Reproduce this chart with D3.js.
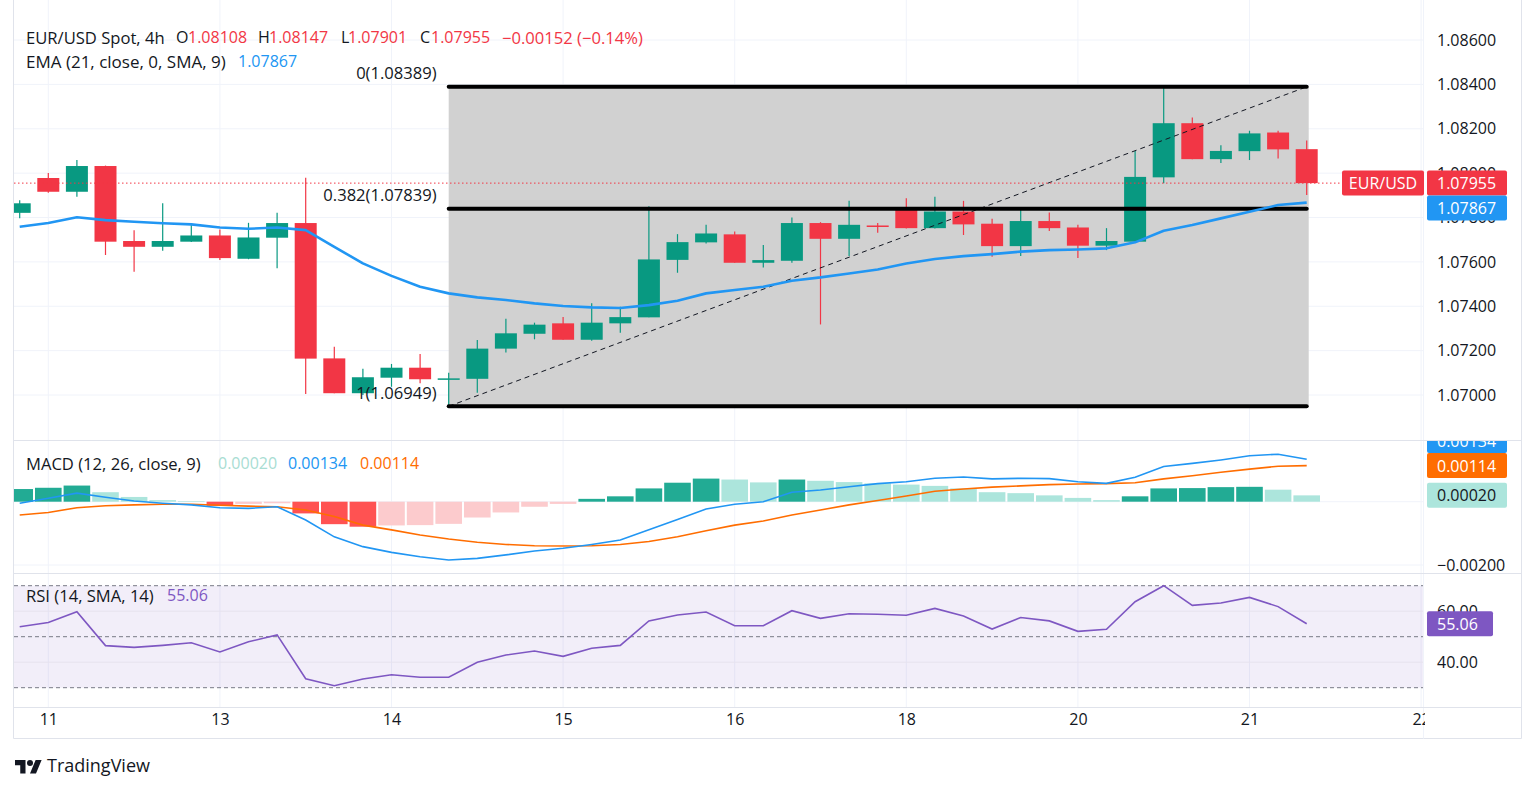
<!DOCTYPE html>
<html>
<head>
<meta charset="utf-8">
<script src="https://cdn.jsdelivr.net/npm/d3@7"></script>
<style>
  html, body { margin: 0; padding: 0; background: #fff; }
  svg { display: block; font-family: "Open Sans", sans-serif; }
</style>
</head>
<body>
<svg id="chart" width="1536" height="790"></svg>
<script>
// ---- data (4h bars, index 0..45) ----
const dayLabels = ['11', '13', '14', '15', '16', '18', '20', '21', '22'];
const dayBars   = [1, 7, 13, 19, 25, 31, 37, 43, 49];

const opens  = [1.07821, 1.07978, 1.07916, 1.08032, 1.07694, 1.07668, 1.07691, 1.07719, 1.07614, 1.07709,
                1.07775, 1.07165, 1.07008, 1.07078, 1.07123, 1.07071, 1.07073, 1.07209, 1.07276, 1.07323,
                1.07249, 1.07323, 1.07350, 1.07609, 1.07688, 1.07724, 1.07596, 1.07605, 1.07775, 1.07704,
                1.07764, 1.07841, 1.07752, 1.07827, 1.07772, 1.07671, 1.07784, 1.07755, 1.07673, 1.07691,
                1.07981, 1.08225, 1.08063, 1.08099, 1.08183, 1.08108];
const highs  = [1.07878, 1.08001, 1.08059, 1.08034, 1.07743, 1.07864, 1.07766, 1.07746, 1.07776, 1.07821,
                1.07979, 1.07218, 1.07118, 1.07140, 1.07185, 1.07100, 1.07248, 1.07344, 1.07326, 1.07351,
                1.07413, 1.07398, 1.07851, 1.07725, 1.07767, 1.07737, 1.07676, 1.07800, 1.07779, 1.07875,
                1.07775, 1.07887, 1.07893, 1.07875, 1.07794, 1.07837, 1.07823, 1.07767, 1.07752, 1.08100,
                1.08389, 1.08251, 1.08126, 1.08191, 1.08191, 1.08147];
const lows   = [1.07797, 1.07911, 1.07893, 1.07631, 1.07555, 1.07650, 1.07690, 1.07608, 1.07612, 1.07571,
                1.07005, 1.07008, 1.07000, 1.07037, 1.07053, 1.06949, 1.07010, 1.07191, 1.07251, 1.07249,
                1.07245, 1.07281, 1.07350, 1.07551, 1.07683, 1.07596, 1.07575, 1.07596, 1.07318, 1.07626,
                1.07731, 1.07750, 1.07750, 1.07721, 1.07623, 1.07627, 1.07739, 1.07618, 1.07653, 1.07690,
                1.07954, 1.08063, 1.08046, 1.08059, 1.08066, 1.07901];
const closes = [1.07864, 1.07916, 1.08032, 1.07691, 1.07668, 1.07694, 1.07719, 1.07617, 1.07710, 1.07775,
                1.07164, 1.07008, 1.07080, 1.07123, 1.07071, 1.07075, 1.07209, 1.07278, 1.07317, 1.07249,
                1.07326, 1.07351, 1.07611, 1.07689, 1.07728, 1.07596, 1.07608, 1.07775, 1.07704, 1.07767,
                1.07759, 1.07752, 1.07827, 1.07769, 1.07671, 1.07784, 1.07752, 1.07673, 1.07694, 1.07983,
                1.08225, 1.08063, 1.08100, 1.08179, 1.08107, 1.07955];

const ema21 = [1.07758, 1.07775, 1.07801, 1.07788, 1.07781, 1.07774, 1.07769, 1.07755, 1.07749, 1.07755,
               1.07743, 1.07668, 1.07593, 1.07537, 1.07488, 1.07458, 1.07440, 1.07428, 1.07413, 1.07401,
               1.07395, 1.07392, 1.07405, 1.07425, 1.07458, 1.07473, 1.07488, 1.07515, 1.07530, 1.07548,
               1.07566, 1.07593, 1.07613, 1.07626, 1.07635, 1.07646, 1.07653, 1.07656, 1.07661, 1.07688,
               1.07740, 1.07766, 1.07796, 1.07826, 1.07856, 1.07867];

const macdHist = [0.00040, 0.00044, 0.00051, 0.00030, 0.00015, 0.00005, 0.00002, -0.00013, -0.00007, -0.00005,
                  -0.00037, -0.00071, -0.00079, -0.00075, -0.00074, -0.00070, -0.00050, -0.00034, -0.00016, -0.00007,
                  0.00009, 0.00017, 0.00042, 0.00060, 0.00073, 0.00070, 0.00061, 0.00070, 0.00066, 0.00062,
                  0.00058, 0.00054, 0.00050, 0.00042, 0.00030, 0.00027, 0.00020, 0.00012, 0.00005, 0.00017,
                  0.00042, 0.00043, 0.00046, 0.00047, 0.00038, 0.00020];
const macdLine = [-0.00005, 0.00011, 0.00027, 0.00014, 0.00002, -0.00005, -0.00010, -0.00019, -0.00021, -0.00016,
                  -0.00058, -0.00111, -0.00142, -0.00160, -0.00174, -0.00184, -0.00179, -0.00168, -0.00156, -0.00147,
                  -0.00135, -0.00121, -0.00089, -0.00056, -0.00023, -0.00008, 0.00000, 0.00030, 0.00037, 0.00047,
                  0.00057, 0.00063, 0.00074, 0.00078, 0.00072, 0.00074, 0.00073, 0.00063, 0.00058, 0.00077,
                  0.00111, 0.00121, 0.00132, 0.00145, 0.00150, 0.00134];
const macdSignal = [-0.00042, -0.00034, -0.00019, -0.00013, -0.00010, -0.00008, -0.00008, -0.00011, -0.00014, -0.00016,
                    -0.00026, -0.00047, -0.00074, -0.00089, -0.00105, -0.00118, -0.00128, -0.00135, -0.00139, -0.00140,
                    -0.00139, -0.00135, -0.00126, -0.00111, -0.00092, -0.00074, -0.00061, -0.00042, -0.00026, -0.00010,
                    0.00004, 0.00018, 0.00033, 0.00040, 0.00046, 0.00050, 0.00054, 0.00056, 0.00057, 0.00060,
                    0.00072, 0.00082, 0.00093, 0.00103, 0.00112, 0.00114];

const rsi14 = [53.9, 55.6, 59.8, 46.5, 45.8, 46.6, 47.6, 44.0, 48.0, 50.7,
               33.5, 30.8, 33.4, 35.1, 34.1, 34.1, 40.0, 42.8, 44.4, 42.3,
               45.5, 46.6, 56.2, 58.5, 59.7, 54.3, 54.3, 60.2, 57.2, 59.0,
               58.8, 58.4, 61.1, 58.1, 53.0, 57.5, 56.2, 52.1, 52.9, 63.7,
               70.0, 62.3, 63.2, 65.4, 61.8, 55.06];

const priceTicks = [1.07, 1.072, 1.074, 1.076, 1.078, 1.08, 1.082, 1.084, 1.086];
const macdTicks  = [-0.002];
const rsiTicks   = [40, 60];
const rsiBands   = [70, 50, 30];

const fibLevels = ['0', '0.382', '1'];
const fibPrices = [1.08389, 1.07839, 1.06949];
const fibBars   = [15, 45];

// ---- layout ----
const W = 1536, H = 790;
const L = 14, R = 1423, AXL = 1437;
const panes = {
  main: [0, 440],
  macd: [441, 573],
  rsi:  [574, 707]
};
const TXT = '#131722', GRID = '#f0f3fa', BORDER = '#e0e3eb';
const UP = '#089981', DOWN = '#f23645';

const svg = d3.select('#chart');
svg.append('rect').attr('width', W).attr('height', H).attr('fill', '#fff');

const x  = d3.scaleLinear().domain([0, 49]).range([19.7, 1421.1]);
const y  = d3.scaleLinear().domain([1.07, 1.086]).range([395, 40]);
const ym = d3.scaleLinear().domain([-0.002, 0]).range([565, 501.7]);
const yr = d3.scaleLinear().domain([30, 70]).range([687.7, 585.7]);

const bars = closes.map((c, i) => ({ i, o: opens[i], h: highs[i], l: lows[i], c }));

// clip paths per pane
const defs = svg.append('defs');
Object.entries(panes).forEach(([k, [t, b]]) => {
  defs.append('clipPath').attr('id', 'clip-' + k)
    .append('rect').attr('x', L).attr('y', t).attr('width', R - L).attr('height', b - t);
});
defs.append('clipPath').attr('id', 'clip-time')
  .append('rect').attr('x', 0).attr('y', 700).attr('width', R + 2).attr('height', 40);
defs.append('clipPath').attr('id', 'clip-macdaxis')
  .append('rect').attr('x', R).attr('y', panes.macd[0]).attr('width', 120).attr('height', panes.macd[1] - panes.macd[0]);

function pane(k) {
  return svg.append('g').attr('clip-path', `url(#clip-${k})`);
}

// ---- grid ----
Object.entries(panes).forEach(([k, [t, b]]) => {
  const g = pane(k);
  g.selectAll('line').data(dayBars).join('line')
    .attr('x1', d => x(d)).attr('x2', d => x(d))
    .attr('y1', t).attr('y2', b)
    .attr('stroke', GRID);
});
pane('main').selectAll('line').data(priceTicks).join('line')
  .attr('x1', L).attr('x2', R).attr('y1', d => y(d)).attr('y2', d => y(d))
  .attr('stroke', GRID);
pane('macd').selectAll('line').data(macdTicks.concat([0])).join('line')
  .attr('x1', L).attr('x2', R).attr('y1', d => ym(d)).attr('y2', d => ym(d))
  .attr('stroke', GRID);

// ---- main pane ----
const gm = pane('main');

// fib retracement box
const fx0 = x(fibBars[0]), fx1 = x(fibBars[1]);
gm.append('rect')
  .attr('x', fx0).attr('width', fx1 - fx0 + 2)
  .attr('y', y(fibPrices[0])).attr('height', y(fibPrices[2]) - y(fibPrices[0]))
  .attr('fill', '#d1d1d1');

// candles
const cg = gm.append('g');
cg.selectAll('line').data(bars).join('line')
  .attr('x1', d => x(d.i)).attr('x2', d => x(d.i))
  .attr('y1', d => y(d.h)).attr('y2', d => y(d.l))
  .attr('stroke', d => d.c >= d.o ? UP : DOWN)
  .attr('stroke-width', 1.2);
cg.selectAll('rect').data(bars).join('rect')
  .attr('x', d => x(d.i) - 11).attr('width', 22)
  .attr('y', d => y(Math.max(d.o, d.c)))
  .attr('height', d => Math.max(1.5, Math.abs(y(d.o) - y(d.c))))
  .attr('fill', d => d.c >= d.o ? UP : DOWN);

// fib lines and dashed trend line
gm.append('line')
  .attr('x1', fx0).attr('y1', y(fibPrices[2]))
  .attr('x2', fx1).attr('y2', y(fibPrices[0]))
  .attr('stroke', TXT).attr('stroke-width', 1).attr('stroke-dasharray', '5 4');
gm.selectAll('.fib').data(fibPrices).join('line').attr('class', 'fib')
  .attr('x1', fx0).attr('x2', fx1)
  .attr('y1', d => y(d)).attr('y2', d => y(d))
  .attr('stroke', '#000').attr('stroke-width', 4).attr('stroke-linecap', 'round');

// EMA
gm.append('path').datum(ema21)
  .attr('fill', 'none').attr('stroke', '#2196f3').attr('stroke-width', 2.6)
  .attr('stroke-linejoin', 'round')
  .attr('d', d3.line().x((d, i) => x(i)).y(d => y(d)));

// last price line
const last = closes[closes.length - 1];
gm.append('line')
  .attr('x1', L).attr('x2', 1342).attr('y1', y(last)).attr('y2', y(last))
  .attr('stroke', DOWN).attr('stroke-width', 1).attr('stroke-dasharray', '1.5 2.5');

// fib labels
svg.append('g').selectAll('text').data(fibPrices).join('text')
  .attr('x', fx0 - 12).attr('y', d => y(d) - 14)
  .attr('text-anchor', 'end').attr('dominant-baseline', 'central')
  .attr('font-size', 16.6).attr('fill', TXT)
  .text((d, i) => `${fibLevels[i]}(${d.toFixed(5)})`);

// ---- MACD pane ----
const gmacd = pane('macd');
gmacd.selectAll('rect').data(macdHist).join('rect')
  .attr('x', (d, i) => x(i) - 13.3).attr('width', 26.6)
  .attr('y', d => Math.min(ym(d), ym(0)))
  .attr('height', d => Math.abs(ym(d) - ym(0)))
  .attr('fill', (d, i) => {
    const prev = i > 0 ? macdHist[i - 1] : -Infinity;
    if (d >= 0) return d >= prev ? '#22ab94' : '#ace5dc';
    return d < prev ? '#ff5252' : '#fccbcd';
  });
const lineM = d3.line().x((d, i) => x(i)).y(d => ym(d));
gmacd.append('path').datum(macdSignal)
  .attr('fill', 'none').attr('stroke', '#ff6d00').attr('stroke-width', 1.6).attr('d', lineM);
gmacd.append('path').datum(macdLine)
  .attr('fill', 'none').attr('stroke', '#2196f3').attr('stroke-width', 1.6).attr('d', lineM);

// ---- RSI pane ----
const grsi = pane('rsi');
grsi.append('rect')
  .attr('x', L).attr('width', R - L)
  .attr('y', yr(70)).attr('height', yr(30) - yr(70))
  .attr('fill', 'rgba(126,87,194,0.1)');
grsi.selectAll('.g').data(rsiTicks).join('line').attr('class', 'g')
  .attr('x1', L).attr('x2', R).attr('y1', d => yr(d)).attr('y2', d => yr(d))
  .attr('stroke', '#e6e3ee');
grsi.selectAll('.b').data(rsiBands).join('line').attr('class', 'b')
  .attr('x1', L).attr('x2', R).attr('y1', d => yr(d)).attr('y2', d => yr(d))
  .attr('stroke', '#787b86').attr('stroke-dasharray', '4 3');
grsi.append('path').datum(rsi14)
  .attr('fill', 'none').attr('stroke', '#7e57c2').attr('stroke-width', 1.6)
  .attr('d', d3.line().x((d, i) => x(i)).y(d => yr(d)));

// ---- borders / separators ----
const bd = svg.append('g').attr('stroke', BORDER).attr('fill', 'none');
bd.append('line').attr('x1', L - 0.5).attr('x2', L - 0.5).attr('y1', 0).attr('y2', 738.5);
bd.append('line').attr('x1', 1521.5).attr('x2', 1521.5).attr('y1', 0).attr('y2', 738.5);
bd.append('line').attr('x1', L - 0.5).attr('x2', 1521.5).attr('y1', 738.5).attr('y2', 738.5);
bd.append('line').attr('x1', R + 0.5).attr('x2', R + 0.5).attr('y1', 0).attr('y2', 738.5).attr('stroke', '#f0f3fa');
[440.5, 573.5, 707.5].forEach(v => {
  bd.append('line').attr('x1', L - 0.5).attr('x2', 1521.5).attr('y1', v).attr('y2', v);
});

// ---- axes ----
function styleAxis(g, size) {
  g.select('.domain').remove();
  g.selectAll('line').remove();
  g.attr('font-family', null).attr('font-size', size);
  g.selectAll('text').attr('fill', TXT);
}
svg.append('g').attr('transform', `translate(${AXL},0)`)
  .call(d3.axisRight(y).tickValues(priceTicks).tickFormat(d3.format('.5f')).tickSize(0).tickPadding(0))
  .call(g => styleAxis(g, 16));
svg.append('g').attr('transform', `translate(${AXL},0)`)
  .call(d3.axisRight(ym).tickValues(macdTicks).tickFormat(d3.format('.5f')).tickSize(0).tickPadding(0))
  .call(g => styleAxis(g, 16));
svg.append('g').attr('transform', `translate(${AXL},0)`)
  .call(d3.axisRight(yr).tickValues(rsiTicks).tickFormat(d3.format('.2f')).tickSize(0).tickPadding(0))
  .call(g => styleAxis(g, 16));
svg.append('g').attr('clip-path', 'url(#clip-time)')
  .append('g').attr('transform', 'translate(0,719)')
  .call(d3.axisBottom(x).tickValues(dayBars).tickFormat((d, i) => dayLabels[i]).tickSize(0).tickPadding(0))
  .call(g => { styleAxis(g, 16); g.selectAll('text').attr('dy', null).attr('dominant-baseline', 'central'); });

// ---- value boxes on the right axis ----
function box(yc, text, fill, color, x0, w, clip) {
  const g = svg.append('g');
  if (clip) g.attr('clip-path', `url(#${clip})`);
  g.append('rect').attr('x', x0).attr('y', yc - 12.5).attr('width', w).attr('height', 25)
    .attr('rx', 2).attr('fill', fill);
  g.append('text').attr('x', x0 + 10).attr('y', yc).attr('dominant-baseline', 'central')
    .attr('font-size', 16).attr('fill', color).text(text);
  return yc;
}

const lastY = box(y(last), d3.format('.5f')(last), DOWN, '#fff', 1427, 80);
box(Math.max(y(ema21[45]), lastY + 25), d3.format('.5f')(ema21[45]), '#2196f3', '#fff', 1427, 80);
svg.append('rect').attr('x', 1342).attr('y', lastY - 12.5).attr('width', 82).attr('height', 25)
  .attr('rx', 2).attr('fill', DOWN);
svg.append('text').attr('x', 1383).attr('y', lastY).attr('text-anchor', 'middle')
  .attr('dominant-baseline', 'central').attr('font-size', 16).attr('fill', '#fff').text('EUR/USD');

box(ym(macdHist[45]), d3.format('.5f')(macdHist[45]), '#ace5dc', TXT, 1427, 80, 'clip-macdaxis');
const sigY = box(ym(macdSignal[45]), d3.format('.5f')(macdSignal[45]), '#ff6d00', '#fff', 1427, 80, 'clip-macdaxis');
box(Math.min(ym(macdLine[45]), sigY - 25), d3.format('.5f')(macdLine[45]), '#2196f3', '#fff', 1427, 80, 'clip-macdaxis');
box(yr(rsi14[45]), d3.format('.2f')(rsi14[45]), '#7e57c2', '#fff', 1427, 66);

// ---- legends (each piece placed where the reference puts it) ----
function legend(y0, parts) {
  svg.append('g').selectAll('text').data(parts).join('text')
    .attr('x', p => p.x).attr('y', y0)
    .attr('dominant-baseline', 'central')
    .attr('font-size', p => p.s || 16)
    .attr('fill', p => p.c || TXT)
    .text(p => p.t);
}
const f5 = d3.format('.5f');
legend(37, [
  { t: 'EUR/USD Spot, 4h', x: 26, s: 16.6 },
  { t: 'O', x: 176 }, { t: f5(opens[45]), x: 188, c: DOWN },
  { t: 'H', x: 258 }, { t: f5(highs[45]), x: 269, c: DOWN },
  { t: 'L', x: 341 }, { t: f5(lows[45]), x: 348, c: DOWN },
  { t: 'C', x: 420 }, { t: f5(closes[45]), x: 431, c: DOWN },
  { t: '−0.00152 (−0.14%)', x: 502, c: DOWN, s: 16.6 }
]);
legend(61, [
  { t: 'EMA (21, close, 0, SMA, 9)', x: 26, s: 17 },
  { t: f5(ema21[45]), x: 238, c: '#2196f3' }
]);
legend(463, [
  { t: 'MACD (12, 26, close, 9)', x: 26, s: 16.6 },
  { t: f5(macdHist[45]), x: 218, c: '#a8ddd3' },
  { t: f5(macdLine[45]), x: 288, c: '#2196f3' },
  { t: f5(macdSignal[45]), x: 360, c: '#ff6d00' }
]);
legend(595, [
  { t: 'RSI (14, SMA, 14)', x: 26, s: 16.6 },
  { t: d3.format('.2f')(rsi14[45]), x: 167, c: '#7e57c2' }
]);

// ---- TradingView mark ----
const logo = svg.append('g').attr('transform', 'translate(15,757) scale(0.75)').attr('fill', TXT);
logo.append('path').attr('d', 'M14 22H7V11H0V4h14v18zM28 22h-8l7.5-18h8L28 22z');
logo.append('circle').attr('cx', 20).attr('cy', 8).attr('r', 4);
svg.append('text').attr('x', 47).attr('y', 765).attr('dominant-baseline', 'central')
  .attr('font-size', 18).attr('fill', TXT).text('TradingView');
</script>
</body>
</html>
